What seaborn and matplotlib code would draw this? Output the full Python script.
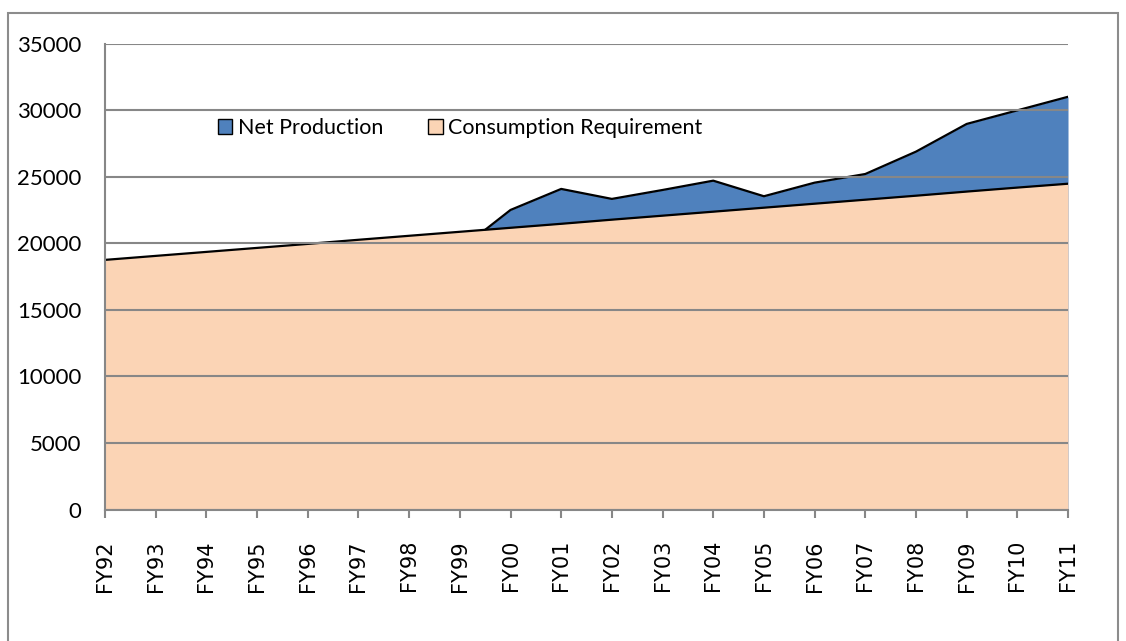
import numpy as np
import matplotlib
matplotlib.use('Agg')
import matplotlib.pyplot as plt
from matplotlib.patches import Patch, Rectangle
import seaborn as sns

# data
years = ['FY92', 'FY93', 'FY94', 'FY95', 'FY96', 'FY97', 'FY98', 'FY99', 'FY00', 'FY01',
         'FY02', 'FY03', 'FY04', 'FY05', 'FY06', 'FY07', 'FY08', 'FY09', 'FY10', 'FY11']
consumption = [18750, 19050, 19350, 19650, 19950, 20260, 20560, 20860, 21160, 21460,
               21770, 22070, 22370, 22670, 22970, 23270, 23570, 23880, 24180, 24470]
net_production = [16800, 17200, 17500, 17900, 18300, 18700, 19100, 19520, 22500, 24080,
                  23330, 24000, 24700, 23530, 24550, 25200, 26880, 28960, 29980, 31000]
yticks = [0, 5000, 10000, 15000, 20000, 25000, 30000, 35000]

sns.set_style('white')
plt.rcParams['font.family'] = ['Lato', 'DejaVu Sans']

blue = '#4F81BD'
peach = '#FBD4B5'
grey = '#878787'

fig = plt.figure(figsize=(11.26, 6.41), dpi=100)
ax = fig.add_axes([0.0933, 0.2051, 0.8552, 0.7270])

x = np.arange(len(years))

# net production behind, consumption in front (overlapping areas)
ax.fill_between(x, 0, net_production, color=blue, lw=0, zorder=1)
sns.lineplot(x=x, y=net_production, color='black', lw=1.6, ax=ax, zorder=1.1)
ax.fill_between(x, 0, consumption, color=peach, lw=0, zorder=1.2)
sns.lineplot(x=x, y=consumption, color='black', lw=1.6, ax=ax, zorder=1.3)

ax.set_xlim(0, len(years) - 1)
ax.set_ylim(0, 35000)
ax.set_xticks(x)
ax.set_xticklabels(years, rotation=90, fontsize=15, family='DejaVu Sans', color='black')
ax.set_yticks(yticks)
ax.set_yticklabels([str(v) for v in yticks], fontsize=16, color='black')
ax.tick_params(axis='x', bottom=True, length=6, width=1.5, color=grey, pad=16, direction='out')
ax.tick_params(axis='y', left=False, length=0, pad=17)
ax.set_xlabel('')
ax.set_ylabel('')

ax.set_axisbelow(False)
ax.yaxis.grid(True, color=grey, lw=1.5)
ax.xaxis.grid(False)
for s in ['top', 'right']:
    ax.spines[s].set_visible(False)
for s in ['left', 'bottom']:
    ax.spines[s].set_color(grey)
    ax.spines[s].set_linewidth(1.5)

handles = [Patch(facecolor=blue, edgecolor='black', lw=1),
           Patch(facecolor=peach, edgecolor='black', lw=1)]
leg = ax.legend(handles, ['Net Production', 'Consumption Requirement'], ncol=2, frameon=False,
                loc='center left', bbox_to_anchor=(0.117, 0.818), fontsize=15.5,
                handlelength=0.68, handleheight=0.68, handletextpad=0.25, columnspacing=2.1,
                borderpad=0, borderaxespad=0)
for t in leg.get_texts():
    t.set_color('black')

# outer chart frame
fig.patches.append(Rectangle((8 / 1126, -0.05), 1110 / 1126, 1 - 12.7 / 641 + 0.05,
                             transform=fig.transFigure, fill=False, edgecolor='#8c8c8c', lw=1.5))

fig.savefig('out.png', dpi=100)
